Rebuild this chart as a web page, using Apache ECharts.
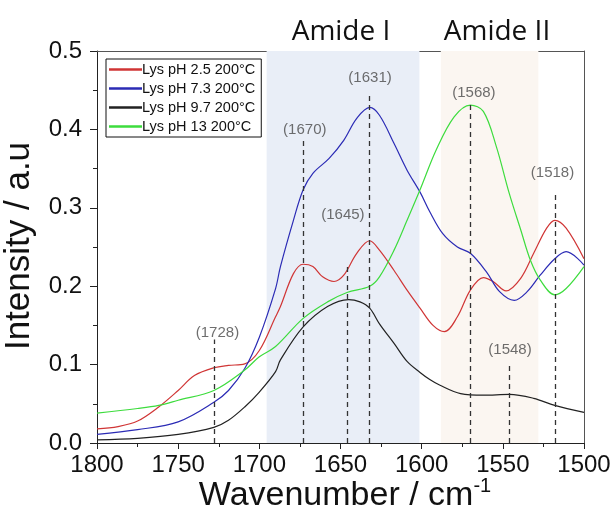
<!DOCTYPE html>
<html>
<head>
<meta charset="utf-8">
<script src="https://cdn.jsdelivr.net/npm/echarts@6/dist/echarts.min.js"></script>
<style>
html,body{margin:0;padding:0;background:#fff;}
#chart{width:614px;height:519px;}
</style>
</head>
<body>
<div id="chart"></div>
<script>
// ---- data (wavenumber cm-1, intensity a.u) ----
var seriesNames = ['Lys pH 2.5 200°C', 'Lys pH 7.3 200°C', 'Lys pH 9.7 200°C', 'Lys pH 13 200°C'];
var seriesColors = ['#d03535', '#2b2bb5', '#222222', '#3ddc3d'];

var redWn = [1800,1787,1775,1762,1750,1740,1728,1719,1709,1700,1690,1687,1679,1673,1667,1661,1654,1648,1640,1632,1626,1617,1609,1601,1593,1586,1578,1570,1562,1556,1548,1539,1531,1523,1518,1511,1500];
var redVal = [0.018,0.021,0.028,0.046,0.067,0.086,0.096,0.099,0.101,0.118,0.161,0.174,0.216,0.228,0.225,0.212,0.206,0.214,0.242,0.258,0.246,0.220,0.195,0.172,0.150,0.142,0.161,0.195,0.211,0.206,0.194,0.210,0.242,0.274,0.284,0.274,0.235];

var blueWn = [1800,1775,1750,1728,1719,1709,1700,1690,1687,1679,1673,1667,1657,1648,1640,1632,1626,1617,1609,1601,1595,1587,1578,1570,1560,1552,1543,1535,1527,1518,1511,1500];
var blueVal = [0.011,0.017,0.027,0.052,0.067,0.095,0.135,0.197,0.225,0.284,0.323,0.344,0.363,0.386,0.414,0.428,0.418,0.382,0.348,0.320,0.295,0.267,0.250,0.242,0.218,0.193,0.182,0.193,0.214,0.235,0.244,0.227];

var blackWn = [1800,1775,1750,1728,1719,1709,1700,1690,1687,1673,1658,1645,1638,1632,1626,1617,1609,1601,1595,1589,1576,1562,1546,1531,1518,1500];
var blackVal = [0.004,0.006,0.011,0.020,0.029,0.046,0.065,0.091,0.106,0.148,0.174,0.183,0.180,0.172,0.152,0.127,0.104,0.090,0.081,0.074,0.063,0.061,0.062,0.057,0.048,0.039];

var greenWn = [1800,1775,1762,1750,1728,1709,1700,1690,1673,1658,1646,1632,1626,1617,1609,1601,1591,1580,1570,1562,1554,1546,1539,1533,1527,1518,1511,1500];
var greenVal = [0.038,0.044,0.048,0.0545,0.067,0.093,0.110,0.123,0.159,0.180,0.192,0.200,0.212,0.246,0.284,0.323,0.374,0.416,0.431,0.423,0.378,0.318,0.272,0.233,0.208,0.189,0.197,0.225];

// shaded regions
var bandNames = ['Amide I', 'Amide II'];
var bandFrom = [1695.5, 1588.2];
var bandTo = [1601.4, 1528.1];

// peak marker dashed lines: position and top value
var peakWn = [1728, 1672.9, 1645.8, 1632.2, 1569.8, 1546.3, 1517.6];
var peakTop = [0.132, 0.3855, 0.227, 0.445, 0.4337, 0.1034, 0.320];
// peak labels: text and anchor
var peakText = ['(1728)', '(1670)', '(1645)', '(1631)', '(1568)', '(1548)', '(1518)'];
var peakLabelWn = [1725.8, 1672.0, 1648.5, 1631.8, 1567.8, 1545.6, 1519.4];
var peakLabelVal = [0.140, 0.399, 0.2907, 0.4656, 0.446, 0.119, 0.3447];

// axis ticks
var xMin = 1500, xMax = 1800, xStep = 50;
var yMin = 0, yMax = 0.5, yStep = 0.1;

function zip(a, b) { return a.map(function (v, i) { return [v, b[i]]; }); }

var lineData = [zip(redWn, redVal), zip(blueWn, blueVal), zip(blackWn, blackVal), zip(greenWn, greenVal)];

var chart = echarts.init(document.getElementById('chart'), null, {renderer: 'canvas'});

var axisCol = '#222';
var series = [];

// bands (behind)
series.push({
  type: 'line', data: [], silent: true, z: 0,
  markArea: {
    silent: true,
    data: [
      [{xAxis: bandFrom[0], itemStyle: {color: '#e9eef7'}}, {xAxis: bandTo[0]}],
      [{xAxis: bandFrom[1], itemStyle: {color: '#fbf6f1'}}, {xAxis: bandTo[1]}]
    ]
  }
});

// dashed peak lines
series.push({
  type: 'line', data: [], silent: true, z: 1,
  markLine: {
    silent: true, symbol: ['none', 'none'], animation: false,
    label: {show: false},
    lineStyle: {color: '#333', type: [5, 4], width: 1.3},
    data: peakWn.map(function (w, i) { return [{coord: [w, 0]}, {coord: [w, peakTop[i]]}]; })
  }
});

for (var i = 0; i < 4; i++) {
  series.push({
    name: seriesNames[i], type: 'line', data: lineData[i],
    showSymbol: false, symbol: 'none', smooth: 0.35, z: 3,
    lineStyle: {color: seriesColors[i], width: 1.2},
    itemStyle: {color: seriesColors[i]}
  });
}

// peak labels
series.push({
  type: 'scatter', symbolSize: 0, silent: true, z: 4,
  data: peakText.map(function (t, i) { return [peakLabelWn[i], peakLabelVal[i], t]; }),
  label: {
    show: true, position: 'inside', color: '#4a4a4a',
    fontFamily: 'Liberation Sans, Arial, sans-serif', fontSize: 15,
    formatter: function (p) { return p.data[2]; }
  }
});

var option = {
  animation: false,
  backgroundColor: '#fff',
  grid: {left: 97, right: 30, top: 51, bottom: 76, containLabel: false},
  legend: {
    data: seriesNames, orient: 'vertical', left: 106, top: 59,
    backgroundColor: '#fff', borderColor: '#111', borderWidth: 1, borderRadius: 0,
    padding: [3, 6, 3, 3], itemGap: 4, itemWidth: 33, itemHeight: 14,
    textStyle: {fontFamily: 'Liberation Sans, Arial, sans-serif', fontSize: 14.5, color: '#111', padding: [0, 0, 0, -5]},
    icon: 'path://M0,0 L100,0 L100,8 L0,8 Z'
  },
  xAxis: [{
    type: 'value', inverse: true, min: xMin, max: xMax, interval: xStep,
    axisLine: {show: true, onZero: false, lineStyle: {color: axisCol, width: 1}},
    axisTick: {show: true, length: 6, lineStyle: {color: axisCol}},
    minorTick: {show: true, splitNumber: 2, length: 4, lineStyle: {color: axisCol}},
    splitLine: {show: false},
    axisLabel: {fontFamily: 'Liberation Sans, Arial, sans-serif', fontSize: 24, color: '#111', margin: 10,
      formatter: function (v) { return String(v); }}
  }, {
    type: 'value', position: 'top', inverse: true, min: xMin, max: xMax,
    axisLine: {show: true, onZero: false, lineStyle: {color: '#555', width: 1}},
    axisTick: {show: false}, axisLabel: {show: false}, splitLine: {show: false}
  }],
  yAxis: [{
    type: 'value', min: yMin, max: yMax, interval: yStep,
    axisLine: {show: true, onZero: false, lineStyle: {color: axisCol, width: 1}},
    axisTick: {show: true, length: 7, lineStyle: {color: axisCol}},
    minorTick: {show: true, splitNumber: 2, length: 4, lineStyle: {color: axisCol}},
    splitLine: {show: false},
    axisLabel: {fontFamily: 'Liberation Sans, Arial, sans-serif', fontSize: 24, color: '#111', margin: 15,
      formatter: function (v) { return v.toFixed(1); }}
  }, {
    type: 'value', position: 'right', min: yMin, max: yMax,
    axisLine: {show: true, onZero: false, lineStyle: {color: '#555', width: 1}},
    axisTick: {show: false}, axisLabel: {show: false}, splitLine: {show: false}
  }],
  graphic: [
    {type: 'text', x: 341, y: 32, style: {text: bandNames[0], font: '28px "Open Sans", sans-serif', fill: '#111',
      textAlign: 'center', textVerticalAlign: 'middle'}},
    {type: 'text', x: 497, y: 32, style: {text: bandNames[1], font: '28px "Open Sans", sans-serif', fill: '#111',
      textAlign: 'center', textVerticalAlign: 'middle'}},
    {type: 'text', rotation: Math.PI / 2, x: 37, y: 246,
      style: {text: 'Intensity / a.u', font: '35px "Liberation Sans", Arial, sans-serif', fill: '#111',
        textAlign: 'center', textVerticalAlign: 'bottom'}},
    {type: 'text', x: 345, y: 515,
      style: {
        text: '{m|Wavenumber / cm}{s|-1}', textAlign: 'center', textVerticalAlign: 'bottom',
        rich: {
          m: {font: '34px "Liberation Sans", Arial, sans-serif', fill: '#111'},
          s: {font: '20px "Liberation Sans", Arial, sans-serif', fill: '#111', verticalAlign: 'top', padding: [0, 0, 19, 0]}
        }
      }}
  ],
  series: series
};
chart.setOption(option);
</script>
</body>
</html>
